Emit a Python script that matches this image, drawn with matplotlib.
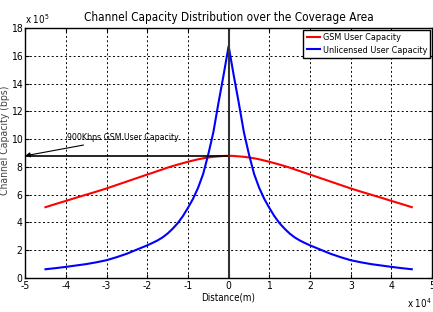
import numpy as np
import matplotlib.pyplot as plt

# distance in units of 1e4 m, capacity in units of 1e5 bps (left half, mirrored)
half_dist = [-4.5, -4.25, -4.0, -3.75, -3.5, -3.25, -3.0, -2.75, -2.5, -2.25, -2.0,
             -1.875, -1.75, -1.625, -1.5, -1.375, -1.25, -1.125, -1.0, -0.875,
             -0.75, -0.625, -0.5, -0.375, -0.25, -0.125]
gsm_half = [5.1, 5.33, 5.55, 5.78, 6.0, 6.22, 6.45, 6.7, 6.95, 7.2, 7.45,
            7.57, 7.7, 7.82, 7.95, 8.06, 8.17, 8.27, 8.37, 8.46,
            8.55, 8.62, 8.68, 8.73, 8.76, 8.79]
unl_half = [0.63, 0.71, 0.8, 0.9, 1.0, 1.13, 1.28, 1.5, 1.75, 2.05, 2.35,
            2.52, 2.7, 2.92, 3.2, 3.55, 3.95, 4.45, 5.05, 5.7,
            6.5, 7.5, 8.9, 10.5, 12.6, 14.6]
gsm_peak = 8.8
unl_peak = 16.7

distance = half_dist + [0.0] + [-d for d in half_dist[::-1]]
gsm = gsm_half + [gsm_peak] + gsm_half[::-1]
unl = unl_half + [unl_peak] + unl_half[::-1]

plt.rcParams['font.family'] = ['DejaVu Sans']
plt.rcParams['font.stretch'] = 'condensed'

fig = plt.figure(figsize=(4.33, 3.12), dpi=100, facecolor='white')
ax = fig.add_axes([0.058, 0.109, 0.94, 0.801])

ax.plot(distance, gsm, color='red', linewidth=1.5, label='GSM User Capacity')
ax.plot(distance, unl, color='blue', linewidth=1.5, label='Unlicensed User Capacity')

# reference lines
ax.plot([-5, 0], [gsm_peak, gsm_peak], color='black', linewidth=1.2)
ax.plot([0, 0], [0, 18], color='#333333', linewidth=1.5)

ax.annotate('900Kbps GSM User Capacity', xy=(-5, gsm_peak), xytext=(-3.97, 10.1),
            fontsize=6.3, va='center', ha='left',
            arrowprops=dict(arrowstyle='-|>', color='black', lw=0.8,
                            mutation_scale=7, shrinkA=0, shrinkB=0))

ax.set_xlim(-5, 5)
ax.set_ylim(0, 18)
ax.set_xticks(np.arange(-5, 6, 1))
ax.set_yticks(np.arange(0, 19, 2))
ax.set_xticklabels([str(v) for v in range(-5, 6)])
ax.set_yticklabels([str(v) for v in range(0, 19, 2)])
ax.tick_params(direction='in', labelsize=7.5, length=3, top=True, right=True, pad=2)
ax.grid(True, color='black', linestyle=(0, (2, 2.5)), linewidth=0.7)
for s in ax.spines.values():
    s.set_linewidth(1.0)

ax.set_title('Channel Capacity Distribution over the Coverage Area', fontsize=8.5, pad=5)
ax.set_xlabel('Distance(m)', fontsize=7, labelpad=1)
ax.set_ylabel('Channel Capacity (bps)', fontsize=7.5, color='#444444')
ax.yaxis.set_label_coords(-0.036, 0.55)

ax.text(0.0, 1.01, r'x 10$^5$', transform=ax.transAxes, fontsize=7, ha='left', va='bottom')
fig.text(0.998, 0.005, r'x 10$^4$', fontsize=7, ha='right', va='bottom')

ax.legend(loc='upper right', fontsize=6.5, frameon=True, fancybox=False, edgecolor='black',
          framealpha=1, borderpad=0.35, handlelength=1.5, handletextpad=0.3,
          labelspacing=0.4, borderaxespad=0.2)

fig.savefig('out.png', dpi=100, facecolor='white')
